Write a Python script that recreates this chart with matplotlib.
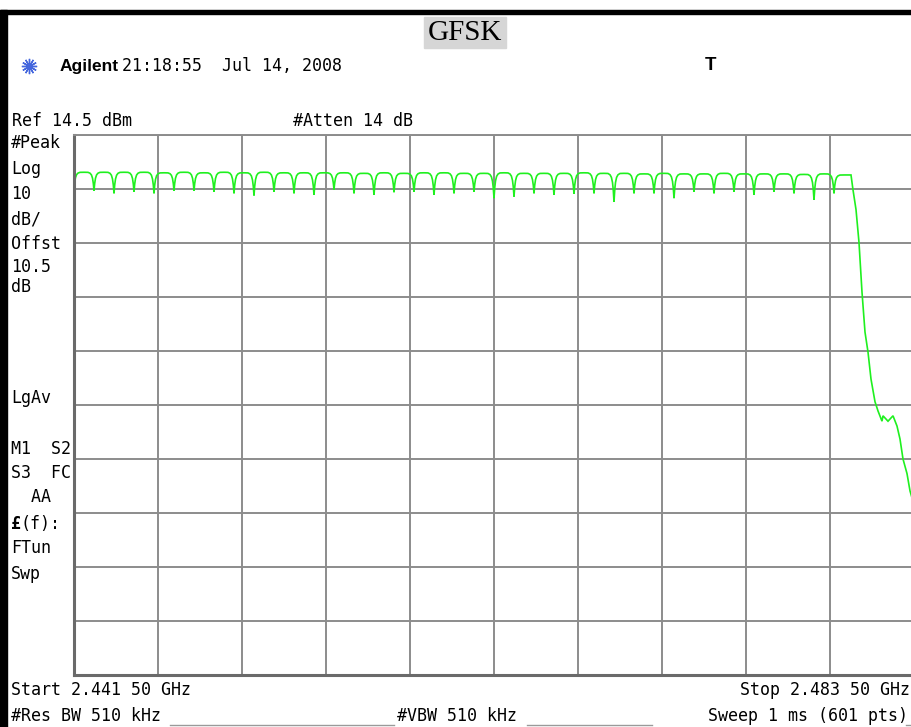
import numpy as np
import matplotlib
matplotlib.use('Agg')
import matplotlib.pyplot as plt
from matplotlib.patches import Rectangle
from matplotlib.lines import Line2D

W, H = 912, 727

title = "GFSK"
start_mhz = 2441.5
stop_mhz = 2483.5
ref_level = 14.5          # dBm, top of screen
db_per_div = 10

# channel boundaries (the notches between 1 MHz hop channels)
dip_freqs = [2441.5, 2442.5, 2443.5, 2444.5, 2445.5, 2446.5, 2447.5, 2448.5,
             2449.5, 2450.5, 2451.5, 2452.5, 2453.5, 2454.5, 2455.5, 2456.5,
             2457.5, 2458.5, 2459.5, 2460.5, 2461.5, 2462.5, 2463.5, 2464.5,
             2465.5, 2466.5, 2467.5, 2468.5, 2469.5, 2470.5, 2471.5, 2472.5,
             2473.5, 2474.5, 2475.5, 2476.5, 2477.5, 2478.5, 2479.5]
dip_levels = [4.5, 4.2, 3.7, 4.0, 3.7, 4.2, 4.2, 4.0, 3.7, 3.3, 4.0, 3.7, 3.4,
              4.4, 3.7, 3.4, 3.9, 4.0, 3.4, 3.7, 4.0, 2.8, 3.1, 3.7, 3.4, 3.6,
              3.7, 2.1, 3.7, 3.7, 2.8, 4.0, 3.7, 4.0, 3.4, 4.0, 3.7, 2.5, 3.7]
# flat-top level of each hop channel (2442 ... 2480 MHz)
plateau_levels = [7.6, 7.6, 7.6, 7.6, 7.5, 7.6, 7.5, 7.6, 7.5, 7.6, 7.5, 7.5,
                  7.5, 7.5, 7.4, 7.5, 7.4, 7.5, 7.5, 7.4, 7.4, 7.5, 7.4, 7.4,
                  7.4, 7.5, 7.4, 7.4, 7.3, 7.4, 7.3, 7.3, 7.4, 7.3, 7.3, 7.3,
                  7.2, 7.3, 7.1]
# band-edge roll-off
tail_freqs = [2480.35, 2480.45, 2480.6, 2480.75, 2480.9, 2481.05, 2481.2,
              2481.35, 2481.55, 2481.7, 2481.9, 2481.95, 2482.2, 2482.45,
              2482.65, 2482.8, 2482.95, 2483.15, 2483.3, 2483.5]
tail_levels = [7.1, 4.35, 0.7, -5.4, -14.6, -22.0, -25.7, -30.7, -34.9, -36.6,
               -38.5, -37.5, -38.5, -37.5, -39.4, -41.8, -45.5, -48.2, -51.4,
               -54.0]

# ---------------- build the trace ----------------
rise_frac = [0.035, 0.075, 0.13, 0.2, 0.3]
rise_rel = [0.4, 0.68, 0.86, 0.95, 0.995]
fx, fy = [], []
n_ch = len(plateau_levels)
for i in range(n_ch):
    d0 = dip_levels[i]
    p = plateau_levels[i]
    f0 = dip_freqs[i]
    fx.append(f0); fy.append(d0)
    for fr, r in zip(rise_frac, rise_rel):
        fx.append(f0 + fr); fy.append(d0 + r * (p - d0))
    fx.append(f0 + 0.5); fy.append(p)
    if i + 1 < len(dip_levels) and i + 1 < n_ch:
        d1 = dip_levels[i + 1]
        for fr, r in zip(rise_frac[::-1], rise_rel[::-1]):
            fx.append(f0 + 1 - fr); fy.append(d1 + r * (p - d1))
fx += tail_freqs
fy += tail_levels

# ---------------- figure ----------------
fig = plt.figure(figsize=(W / 100, H / 100), dpi=100)
fig.patch.set_facecolor('white')

ax = fig.add_axes([74 / W, (H - 675) / H, 840 / W, 540 / H])
ax.plot(fx, fy, color='#1ff01f', lw=1.2, solid_joinstyle='miter')
ax.set_xlim(start_mhz, stop_mhz)
ax.set_ylim(ref_level - 10 * db_per_div, ref_level)
ax.set_xticks(np.linspace(start_mhz, stop_mhz, 11))
ax.set_yticks(np.linspace(ref_level - 10 * db_per_div, ref_level, 11))
ax.tick_params(length=0, labelbottom=False, labelleft=False)
ax.grid(True, color='#8c8c8c', lw=1.4)
ax.set_axisbelow(True)
for s in ['left', 'bottom']:
    ax.spines[s].set_color('#6a6a6a')
    ax.spines[s].set_linewidth(2.2)
ax.spines['top'].set_color('#8c8c8c')
ax.spines['top'].set_linewidth(1.4)
ax.spines['right'].set_visible(False)


def px(x, y):
    return x / W, 1 - y / H


# frame (black edges)
fig.patches.append(Rectangle(px(0, 14), 912 / W, 4 / H, transform=fig.transFigure,
                             color='black', zorder=5))
fig.patches.append(Rectangle(px(0, 727), 7 / W, 717 / H, transform=fig.transFigure,
                             color='black', zorder=5))

# title with grey background
fig.patches.append(Rectangle(px(424, 48), 82 / W, 31 / H, transform=fig.transFigure,
                             color='#d6d6d6', zorder=1))
fig.text(*px(465, 33), title, family='Liberation Serif', fontsize=21,
         ha='center', va='center', zorder=3)

mono = dict(family='DejaVu Sans Mono', fontsize=12, va='center', ha='left',
            color='black')

# Agilent header
fig.add_artist(Line2D([29 / W], [1 - 66 / H], marker=(12, 2, 0), markersize=11,
                      color='#4466dd', mew=1.0, transform=fig.transFigure))
fig.text(*px(60, 66), 'Agilent', family='Liberation Sans', weight='bold',
         fontsize=12.5, va='center', ha='left')
fig.text(*px(122, 66), '21:18:55  Jul 14, 2008', **mono)
fig.text(*px(711, 66), 'T', family='Liberation Sans', weight='bold',
         fontsize=13.5, va='center', ha='center')

fig.text(*px(12, 121), 'Ref 14.5 dBm', **mono)
fig.text(*px(293, 121), '#Atten 14 dB', **mono)

left_labels = [('#Peak', 143), ('Log', 169), ('10', 194), ('dB/', 219),
               ('Offst', 244), ('10.5', 267), ('dB', 287), ('LgAv', 398),
               ('M1  S2', 449), ('S3  FC', 473), ('  AA', 497),
               ('FTun', 548), ('Swp', 574)]
for s, y in left_labels:
    fig.text(*px(11, y), s, **mono)
fig.text(*px(11, 524), '£', family='DejaVu Sans Mono', weight='bold',
         fontsize=12, va='center', ha='left')
fig.text(*px(21, 524), '(f):', **mono)

# bottom annotation rows
fig.text(*px(11, 690), 'Start 2.441 50 GHz', **mono)
fig.text(*px(910, 690), 'Stop 2.483 50 GHz', **{**mono, 'ha': 'right'})
fig.text(*px(11, 716), '#Res BW 510 kHz', **mono)
fig.text(*px(397, 716), '#VBW 510 kHz', **mono)
fig.text(*px(908, 716), 'Sweep 1 ms (601 pts)', **{**mono, 'ha': 'right'})
for x0, x1 in [(170, 394), (527, 652), (906, 912)]:
    fig.add_artist(Line2D([x0 / W, x1 / W], [1 - 725 / H, 1 - 725 / H],
                          color='#9a9a9a', lw=1.0, transform=fig.transFigure))

fig.savefig('out.png', dpi=100, facecolor='white')
